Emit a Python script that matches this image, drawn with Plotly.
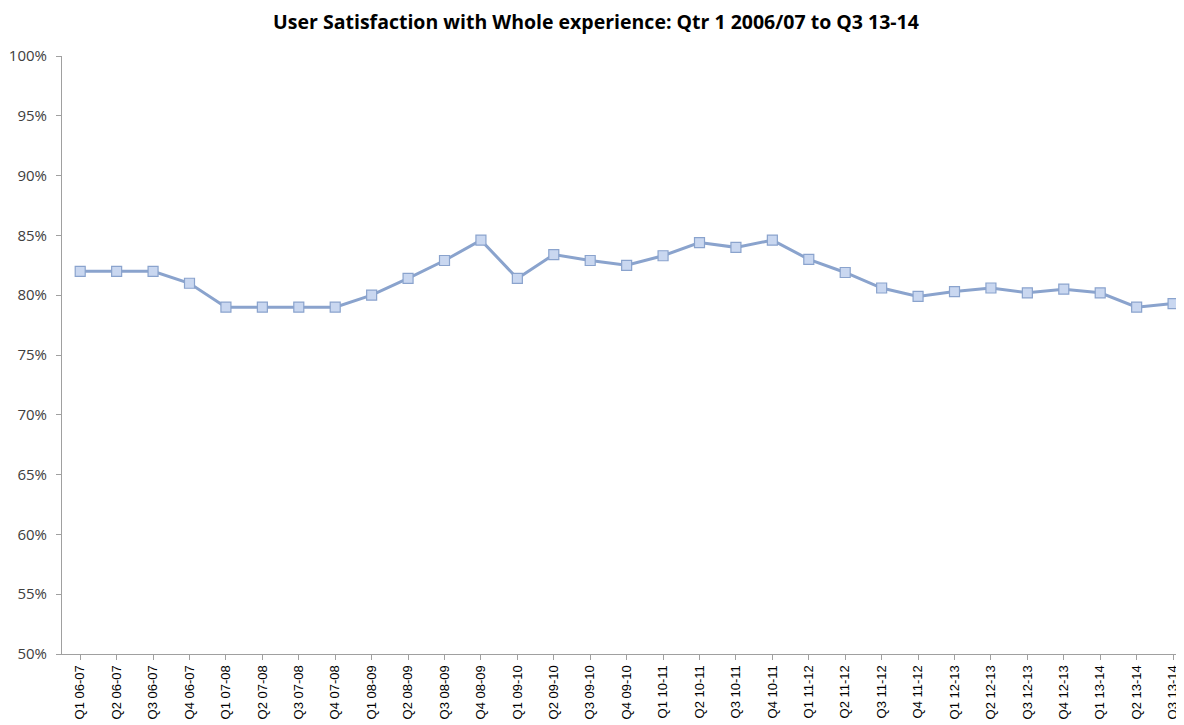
import plotly.graph_objects as go

categories = [
    "Q1 06-07", "Q2 06-07", "Q3 06-07", "Q4 06-07",
    "Q1 07-08", "Q2 07-08", "Q3 07-08", "Q4 07-08",
    "Q1 08-09", "Q2 08-09", "Q3 08-09", "Q4 08-09",
    "Q1 09-10", "Q2 09-10", "Q3 09-10", "Q4 09-10",
    "Q1 10-11", "Q2 10-11", "Q3 10-11", "Q4 10-11",
    "Q1 11-12", "Q2 11-12", "Q3 11-12", "Q4 11-12",
    "Q1 12-13", "Q2 12-13", "Q3 12-13", "Q4 12-13",
    "Q1 13-14", "Q2 13-14", "Q3 13-14",
]
satisfaction = [
    0.820, 0.820, 0.820, 0.810,
    0.790, 0.790, 0.790, 0.790,
    0.800, 0.814, 0.829, 0.846,
    0.814, 0.834, 0.829, 0.825,
    0.833, 0.844, 0.840, 0.846,
    0.830, 0.819, 0.806, 0.799,
    0.803, 0.806, 0.802, 0.805,
    0.802, 0.790, 0.793,
]
y_ticks = [0.50, 0.55, 0.60, 0.65, 0.70, 0.75, 0.80, 0.85, 0.90, 0.95, 1.00]

fig = go.Figure(go.Scatter(
    x=categories, y=satisfaction, mode="lines+markers",
    line=dict(color="#8aa3cd", width=3),
    marker=dict(symbol="square", size=10, color="#c9d7f0",
                line=dict(color="#8aa3cd", width=1.2)),
    showlegend=False,
))

# page body has an 8px margin, so the figure is sized/offset to compensate
fig.update_layout(
    width=1176, height=717,
    margin=dict(l=54, r=0, t=48, b=71),
    paper_bgcolor="white", plot_bgcolor="white",
    title=dict(text="<b>User Satisfaction with Whole experience: Qtr 1 2006/07 to Q3 13-14</b>",
               x=0.5, xanchor="center", y=0.98, yanchor="middle",
               font=dict(family="Open Sans, Lato, sans-serif", size=19.5, color="#000000")),
)
fig.update_xaxes(
    type="category", range=[-0.5, 30.3], automargin=False,
    showline=True, linecolor="#a0a0a0", linewidth=1,
    ticks="outside", ticklen=5, tickcolor="#a0a0a0",
    tickangle=-90, showgrid=False, zeroline=False,
    tickfont=dict(family="Liberation Sans, Arial, sans-serif", size=13, color="#000000"),
)
fig.update_yaxes(
    range=[0.5, 1.0], tickvals=y_ticks, tickformat=".0%", automargin=False,
    showline=True, linecolor="#a0a0a0", linewidth=1,
    ticks="outside", ticklen=5, tickcolor="#a0a0a0", ticklabelstandoff=6,
    showgrid=False, zeroline=False,
    tickfont=dict(family="Open Sans, Lato, sans-serif", size=15, color="#404040"),
)

fig.write_html("out.html")
